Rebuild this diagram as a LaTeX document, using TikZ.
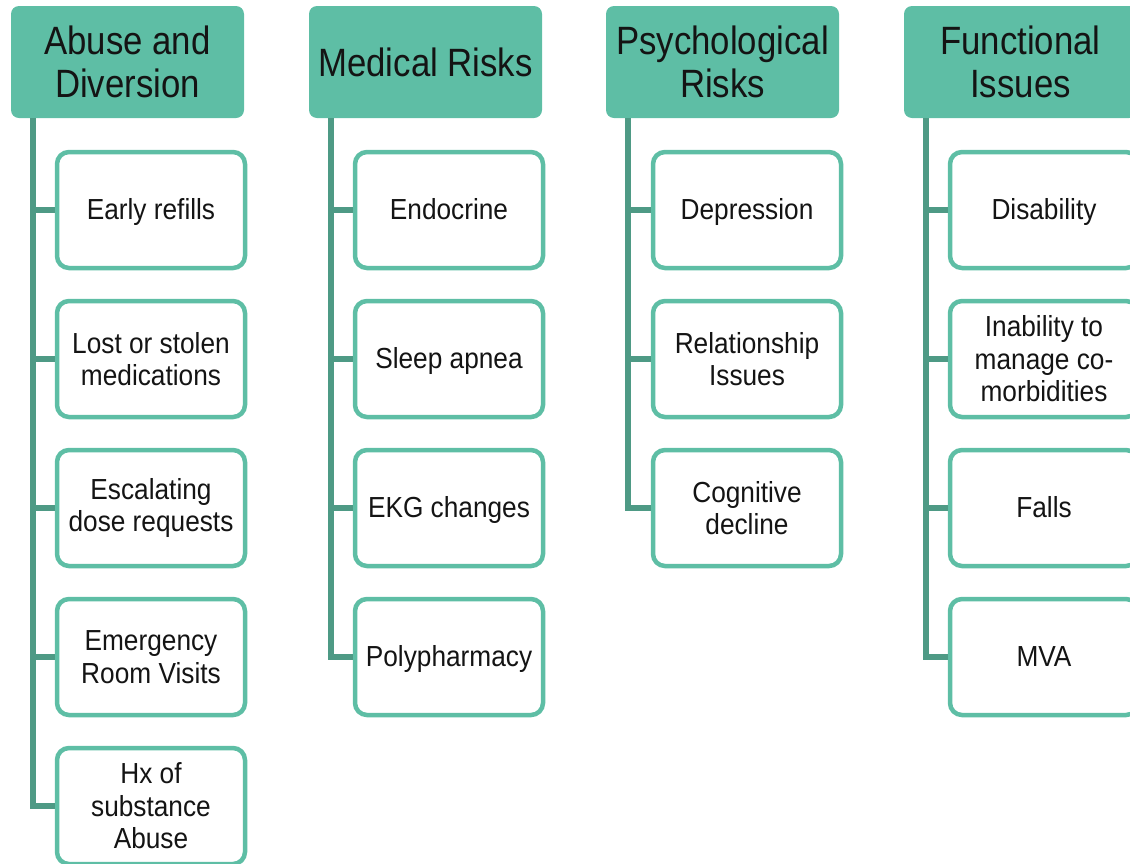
\documentclass[tikz,border=0pt]{standalone}
\usepackage{fontspec}
\setmainfont[FakeStretch=0.88]{Liberation Sans}
\newfontfamily\itemfont[FakeStretch=0.905]{Liberation Sans}
\definecolor{teal}{RGB}{94,190,165}
\definecolor{tealdark}{RGB}{78,154,133}
\definecolor{ink}{RGB}{20,20,20}
\tikzset{
  head/.style={rectangle, rounded corners=8pt, fill=teal, draw=none,
    minimum width=233pt, minimum height=112pt, align=center, text=ink,
    font=\fontsize{39.5}{43.5}\selectfont, inner sep=0pt},
  item/.style={rectangle, rounded corners=12pt, fill=white, draw=teal,
    line width=4.5pt, minimum width=188pt, minimum height=116pt,
    align=center, text=ink, font=\itemfont\fontsize{29}{32.5}\selectfont,
    inner sep=0pt},
  oneline/.style={item, text height=26pt, text depth=7pt},
  conn/.style={draw=tealdark, line width=5.5pt}
}
\begin{document}
\begin{tikzpicture}[x=1pt, y=-1pt]
\useasboundingbox (0,0) rectangle (1130,863);
\clip (0,0) rectangle (1130,863);

% column headers
\node[head] (h1) at (127.5,62) {Abuse and\\Diversion};
\node[head] (h2) at (425.5,62) {Medical Risks};
\node[head] (h3) at (722.5,62) {Psychological\\Risks};
\node[head] (h4) at (1020.5,62) {Functional\\Issues};

% trunk tops
\coordinate (t1) at ([xshift=22pt]h1.south west);
\coordinate (t2) at ([xshift=22pt]h2.south west);
\coordinate (t3) at ([xshift=22pt]h3.south west);
\coordinate (t4) at ([xshift=22pt]h4.south west);

% column 1
\node[oneline] (c11) at (151,210) {Early refills};
\node[item] (c12) at (151,359) {Lost or stolen\\medications};
\node[item] (c13) at (151,508) {Escalating\\dose requests};
\node[item] (c14) at (151,657) {Emergency\\Room Visits};
\node[item] (c15) at (151,806) {Hx of\\substance\\Abuse};

% column 2
\node[oneline] (c21) at (449,210) {Endocrine};
\node[oneline] (c22) at (449,359) {Sleep apnea};
\node[oneline] (c23) at (449,508) {EKG changes};
\node[oneline] (c24) at (449,657) {Polypharmacy};

% column 3
\node[oneline] (c31) at (747,210) {Depression};
\node[item] (c32) at (747,359) {Relationship\\Issues};
\node[item] (c33) at (747,508) {Cognitive\\decline};

% column 4
\node[oneline] (c41) at (1044,210) {Disability};
\node[item] (c42) at (1044,359) {Inability to\\manage co-\\morbidities};
\node[oneline] (c43) at (1044,508) {Falls};
\node[oneline] (c44) at (1044,657) {MVA};

% connectors: one trunk per column with a stub to each item
\draw[conn] (t1) |- (c15.west);
\foreach \c in {c11,c12,c13,c14} \draw[conn] (\c.west -| t1) -- (\c.west);
\draw[conn] (t2) |- (c24.west);
\foreach \c in {c21,c22,c23} \draw[conn] (\c.west -| t2) -- (\c.west);
\draw[conn] (t3) |- (c33.west);
\foreach \c in {c31,c32} \draw[conn] (\c.west -| t3) -- (\c.west);
\draw[conn] (t4) |- (c44.west);
\foreach \c in {c41,c42,c43} \draw[conn] (\c.west -| t4) -- (\c.west);
\end{tikzpicture}
\end{document}
